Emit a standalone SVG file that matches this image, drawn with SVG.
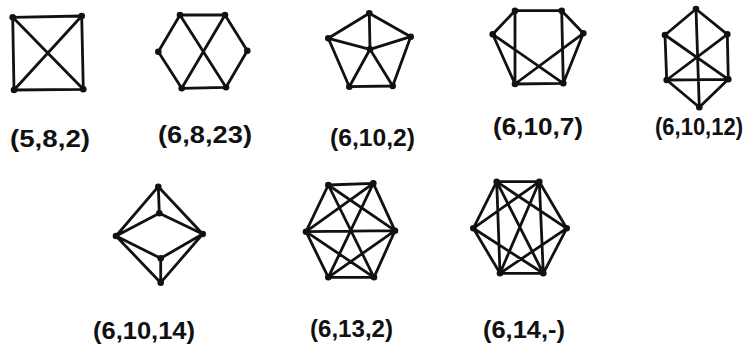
<svg xmlns="http://www.w3.org/2000/svg" width="748" height="345" viewBox="0 0 748 345">
<style>
.e{stroke:#111;stroke-width:2.8;stroke-linecap:round;stroke-linejoin:round;fill:none}
.v{fill:#111}
.lbl{font-family:"Liberation Sans","DejaVu Sans",sans-serif;font-weight:bold;font-size:23px;fill:#111;text-anchor:start}
</style>
<rect width="748" height="345" fill="#fff"/>
<g id="connectors">
<path class="e" d="M12.7,17.3 L81.7,16 L83.3,89.3 L14,90 Z M12.7,17.3 L83.3,89.3 M81.7,16 L14,90"/>
<path class="e" d="M180,15 L225,15 L247.3,50.7 L226,87.3 L181.7,88.3 L158.3,51.7 Z M180,15 L226,87.3 M225,15 L181.7,88.3"/>
<path class="e" d="M369.3,13.3 L410.7,36.7 L392.7,86 L349.3,86.7 L328.3,38.3 Z M370,49.3 L369.3,13.3 M370,49.3 L328.3,38.3 M370,49.3 L410.7,36.7 M370,49.3 L349.3,86.7 M370,49.3 L392.7,86"/>
<path class="e" d="M515,10.7 L561.7,10.7 L563.3,83.3 L515,84 Z M492.7,34.3 L515,10.7 M492.7,34.3 L515,84 M492.7,34.3 L563.3,83.3 M583.3,33.3 L561.7,10.7 M583.3,33.3 L563.3,83.3 M583.3,33.3 L515,84"/>
<path class="e" d="M696,9 L665,35 L666.7,80 L699.3,107.3 L728.3,79.3 L727.3,34.3 Z M666.7,80 L728.3,79.3 M696,9 L699.3,107.3 M665,35 L728.3,79.3 M727.3,34.3 L666.7,80"/>
<path class="e" d="M158.3,186.7 L116,236 L160.7,282.7 L202.7,234 Z M158.3,186.7 L159.3,213.3 M159.3,213.3 L116,236 M159.3,213.3 L202.7,234 M160.7,258.3 L116,236 M160.7,258.3 L202.7,234 M160.7,258.3 L160.7,282.7"/>
<path class="e" d="M328.3,185 L373.3,183.3 L395,230.7 L374,277.3 L328.3,277.3 L306,231.7 Z M306,231.7 L395,230.7 M328.3,185 L374,277.3 M373.3,183.3 L328.3,277.3 M328.3,185 L395,230.7 M373.3,183.3 L306,231.7 M328.3,277.3 L395,230.7 M374,277.3 L306,231.7"/>
<path class="e" d="M496.7,181.7 L539.3,181.7 L566.7,228.3 L543.3,273.3 L500,273.3 L473.3,228.3 Z M496.7,181.7 L500,273.3 M539.3,181.7 L543.3,273.3 M496.7,181.7 L566.7,228.3 M539.3,181.7 L473.3,228.3 M496.7,181.7 L543.3,273.3 M539.3,181.7 L500,273.3 M473.3,228.3 L543.3,273.3 M566.7,228.3 L500,273.3"/>
</g>
<g id="n1"><circle class="v" cx="12.7" cy="17.3" r="3.3"/><circle class="v" cx="81.7" cy="16" r="3.3"/><circle class="v" cx="14" cy="90" r="3.3"/><circle class="v" cx="83.3" cy="89.3" r="3.3"/><text class="lbl" x="10" y="146.5" textLength="80" lengthAdjust="spacingAndGlyphs">(5,8,2)</text></g>
<g id="n2"><circle class="v" cx="180" cy="15" r="3.3"/><circle class="v" cx="225" cy="15" r="3.3"/><circle class="v" cx="158.3" cy="51.7" r="3.3"/><circle class="v" cx="247.3" cy="50.7" r="3.3"/><circle class="v" cx="181.7" cy="88.3" r="3.3"/><circle class="v" cx="226" cy="87.3" r="3.3"/><text class="lbl" x="158" y="142.5" textLength="94" lengthAdjust="spacingAndGlyphs">(6,8,23)</text></g>
<g id="n3"><circle class="v" cx="369.3" cy="13.3" r="3.3"/><circle class="v" cx="328.3" cy="38.3" r="3.3"/><circle class="v" cx="410.7" cy="36.7" r="3.3"/><circle class="v" cx="370" cy="49.3" r="3.3"/><circle class="v" cx="349.3" cy="86.7" r="3.3"/><circle class="v" cx="392.7" cy="86" r="3.3"/><text class="lbl" x="330" y="146" textLength="85" lengthAdjust="spacingAndGlyphs">(6,10,2)</text></g>
<g id="n4"><circle class="v" cx="515" cy="10.7" r="3.3"/><circle class="v" cx="561.7" cy="10.7" r="3.3"/><circle class="v" cx="492.7" cy="34.3" r="3.3"/><circle class="v" cx="583.3" cy="33.3" r="3.3"/><circle class="v" cx="515" cy="84" r="3.3"/><circle class="v" cx="563.3" cy="83.3" r="3.3"/><text class="lbl" x="493" y="134.5" textLength="90" lengthAdjust="spacingAndGlyphs">(6,10,7)</text></g>
<g id="n5"><circle class="v" cx="696" cy="9" r="3.3"/><circle class="v" cx="665" cy="35" r="3.3"/><circle class="v" cx="727.3" cy="34.3" r="3.3"/><circle class="v" cx="666.7" cy="80" r="3.3"/><circle class="v" cx="728.3" cy="79.3" r="3.3"/><circle class="v" cx="699.3" cy="107.3" r="3.3"/><text class="lbl" x="655" y="135" textLength="88" lengthAdjust="spacingAndGlyphs">(6,10,12)</text></g>
<g id="n6"><circle class="v" cx="158.3" cy="186.7" r="3.3"/><circle class="v" cx="159.3" cy="213.3" r="3.3"/><circle class="v" cx="116" cy="236" r="3.3"/><circle class="v" cx="202.7" cy="234" r="3.3"/><circle class="v" cx="160.7" cy="258.3" r="3.3"/><circle class="v" cx="160.7" cy="282.7" r="3.3"/><text class="lbl" x="93" y="339" textLength="102" lengthAdjust="spacingAndGlyphs">(6,10,14)</text></g>
<g id="n7"><circle class="v" cx="328.3" cy="185" r="3.3"/><circle class="v" cx="373.3" cy="183.3" r="3.3"/><circle class="v" cx="306" cy="231.7" r="3.3"/><circle class="v" cx="395" cy="230.7" r="3.3"/><circle class="v" cx="328.3" cy="277.3" r="3.3"/><circle class="v" cx="374" cy="277.3" r="3.3"/><text class="lbl" x="310" y="337" textLength="83" lengthAdjust="spacingAndGlyphs">(6,13,2)</text></g>
<g id="n8"><circle class="v" cx="496.7" cy="181.7" r="3.3"/><circle class="v" cx="539.3" cy="181.7" r="3.3"/><circle class="v" cx="473.3" cy="228.3" r="3.3"/><circle class="v" cx="566.7" cy="228.3" r="3.3"/><circle class="v" cx="500" cy="273.3" r="3.3"/><circle class="v" cx="543.3" cy="273.3" r="3.3"/><text class="lbl" x="483" y="338" textLength="82" lengthAdjust="spacingAndGlyphs">(6,14,-)</text></g>
</svg>
